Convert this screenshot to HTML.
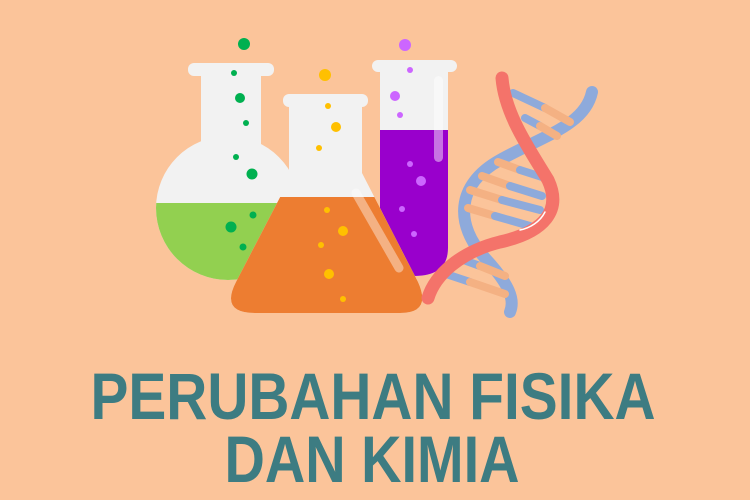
<!DOCTYPE html>
<html><head><meta charset="utf-8"><style>
html,body{margin:0;padding:0;background:#FBC49A;}
svg{display:block}
</style></head><body>
<svg width="750" height="500" viewBox="0 0 750 500">
<rect width="750" height="500" fill="#FBC49A"/>
<defs>
<clipPath id="bulb"><circle cx="228" cy="208" r="72"/></clipPath>
<clipPath id="erl"><path d="M289,106 L362,106 L362,173 L418,282 Q432,313 400,313 L255,313 Q220,313 236,282 L289,180 Z"/></clipPath>
<clipPath id="tube"><path d="M380,72 L448,72 L448,248 Q448,276 414,276 Q380,276 380,248 Z"/></clipPath>
</defs>
<g>
<rect x="188" y="63" width="86" height="13" rx="6" fill="#F2F2F2"/>
<rect x="201" y="70" width="60" height="80" fill="#F2F2F2"/>
<g clip-path="url(#bulb)"><rect x="150" y="130" width="160" height="160" fill="#F2F2F2"/><rect x="150" y="203" width="160" height="90" fill="#92D050"/></g>
<g fill="#00B050"><circle cx="244" cy="44" r="6"/><circle cx="234" cy="73" r="3"/><circle cx="240" cy="98" r="5"/><circle cx="246" cy="123" r="3"/><circle cx="236" cy="157" r="3"/><circle cx="252" cy="174" r="5.5"/><circle cx="253" cy="215" r="3.5"/><circle cx="231" cy="227" r="5.5"/><circle cx="243" cy="247" r="3.5"/></g>
</g>
<g>
<rect x="372" y="60" width="85" height="12" rx="6" fill="#F2F2F2"/>
<g clip-path="url(#tube)"><rect x="375" y="70" width="80" height="210" fill="#F2F2F2"/><rect x="375" y="130" width="80" height="150" fill="#9900CC"/></g>
<rect x="434" y="76" width="9" height="86" rx="4.5" fill="#fff" opacity="0.45"/>
<g fill="#CC66FF"><circle cx="405" cy="45" r="6"/><circle cx="410" cy="70" r="3"/><circle cx="395" cy="96" r="5"/><circle cx="400" cy="115" r="3"/><circle cx="410" cy="164" r="3"/><circle cx="421" cy="181" r="5"/><circle cx="402" cy="209" r="3"/><circle cx="414" cy="234" r="3"/></g>
</g>
<g>
<rect x="283" y="94" width="85" height="13" rx="6" fill="#F2F2F2"/>
<g clip-path="url(#erl)"><rect x="220" y="100" width="220" height="220" fill="#F2F2F2"/><rect x="220" y="197" width="220" height="120" fill="#ED7D31"/></g>
<line x1="356" y1="193" x2="399" y2="268" stroke="#fff" stroke-width="9" stroke-linecap="round" opacity="0.4"/>
<g fill="#FFC000"><circle cx="325" cy="75" r="6"/><circle cx="328" cy="106" r="3"/><circle cx="336" cy="127" r="5"/><circle cx="319" cy="148" r="3"/><circle cx="327" cy="210" r="3"/><circle cx="343" cy="231" r="5"/><circle cx="321" cy="245" r="3"/><circle cx="329" cy="274" r="5"/><circle cx="343" cy="299" r="3"/></g>
</g>
<g stroke-linecap="round" fill="none">
<path d="M592,92 C585,125 545,135 500,160 C455,185 455,225 485,258 C510,285 515,300 510,312" stroke="#8EAADB" stroke-width="12"/>
<g stroke-width="8">
<line x1="513" y1="93" x2="545" y2="108" stroke="#8EAADB"/><line x1="545" y1="108" x2="570" y2="122" stroke="#F4B183"/>
<line x1="525" y1="118" x2="540" y2="126" stroke="#8EAADB"/><line x1="540" y1="126" x2="557" y2="136" stroke="#F4B183"/>
<line x1="498" y1="162" x2="520" y2="170" stroke="#F4B183"/><line x1="520" y1="170" x2="545" y2="178" stroke="#8EAADB"/>
<line x1="482" y1="176" x2="510" y2="186" stroke="#F4B183"/><line x1="510" y1="186" x2="542" y2="196" stroke="#8EAADB"/>
<line x1="470" y1="190" x2="502" y2="200" stroke="#F4B183"/><line x1="502" y1="200" x2="540" y2="210" stroke="#8EAADB"/>
<line x1="468" y1="208" x2="495" y2="216" stroke="#F4B183"/><line x1="495" y1="216" x2="530" y2="226" stroke="#8EAADB"/>
<line x1="458" y1="258" x2="480" y2="266" stroke="#8EAADB"/><line x1="480" y1="266" x2="505" y2="276" stroke="#F4B183"/>
<line x1="443" y1="273" x2="470" y2="282" stroke="#8EAADB"/><line x1="470" y1="282" x2="505" y2="294" stroke="#F4B183"/>
</g>
<path d="M502,78 C505,115 530,150 548,180 C562,210 545,232 500,242 C460,252 435,275 428,298" stroke="#F4736A" stroke-width="13"/>
<path d="M545,212 C540,222 530,228 520,230" stroke="#fff" stroke-width="1.5"/>
</g>
<g font-family="'Liberation Sans', sans-serif" font-weight="bold" fill="#3D7C82" text-anchor="middle">
<text x="373" y="419" font-size="66" textLength="565" lengthAdjust="spacingAndGlyphs">PERUBAHAN FISIKA</text>
<text x="372" y="482" font-size="66" textLength="295" lengthAdjust="spacingAndGlyphs">DAN KIMIA</text>
</g>
</svg>
</body></html>
